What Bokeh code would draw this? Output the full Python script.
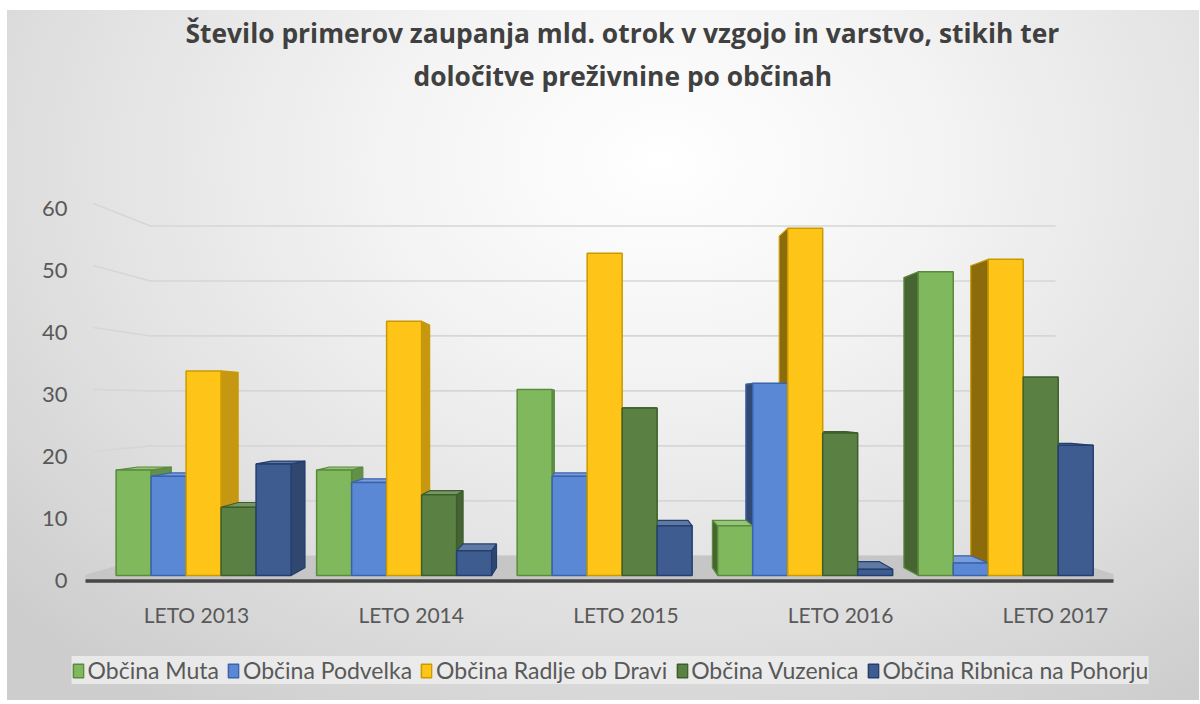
import numpy as np
from bokeh.plotting import figure
from bokeh.layouts import column
from bokeh.models import Range1d, FixedTicker, Title, Legend, LegendItem, ColumnDataSource
from bokeh.embed import file_html
from bokeh.resources import INLINE

# ---------------- data ----------------
categories = ["LETO 2013", "LETO 2014", "LETO 2015", "LETO 2016", "LETO 2017"]
series_names = ["Občina Muta", "Občina Podvelka", "Občina Radlje ob Dravi",
                "Občina Vuzenica", "Občina Ribnica na Pohorju"]
muta = [17, 17, 30, 8, 49]
podvelka = [16, 15, 16, 31, 2]
radlje = [33, 41, 52, 56, 51]
vuzenica = [11, 13, 27, 23, 32]
ribnica = [18, 4, 8, 1, 21]
y_ticks = [0, 10, 20, 30, 40, 50, 60]
title_line1 = "Število primerov zaupanja mld. otrok v vzgojo in varstvo, stikih ter"
title_line2 = "določitve preživnine po občinah"

series_values = [muta, podvelka, radlje, vuzenica, ribnica]

# ---------------- style ----------------
front_colors = ["#80b85e", "#5a88d4", "#ffc418", "#5a8043", "#3e5c8f"]
line_colors = ["#5a8a3c", "#3a63ad", "#c99a00", "#3d5e2a", "#223f70"]
FONT = "Lato"
TITLE_FONT = "Open Sans"
TEXT = "#595959"

# pseudo-3D perspective parameters (style only)
VP_X = 1.88        # vanishing point (x, in category units)
EYE_Y = 28.0       # eye level (value units)
BAR_DEPTH = 0.045
WALL_DEPTH = 0.113
FLOOR_FRONT = -0.032
CLUSTER_SCALE = 0.934
CLUSTER_SHIFT = 0.033
BAR_W = 0.163
X_LO, X_HI = -0.517, 4.271
X_WALL = -0.481
Y_LO, Y_HI = -1.3, 61.3
LABEL_SHIFT = -0.8


def shade(hexc, f):
    h = hexc.lstrip('#')
    r, g, b = [int(h[i:i + 2], 16) for i in (0, 2, 4)]
    if f < 1:
        r, g, b = [int(c * f) for c in (r, g, b)]
    else:
        r, g, b = [int(c + (255 - c) * (f - 1)) for c in (r, g, b)]
    return "#%02x%02x%02x" % (r, g, b)


def proj(x, y, t):
    return x + t * (VP_X - x), y + t * (EYE_Y - y)


W = 1192
H_MAIN, H_LEG = 630, 60
p = figure(width=W, height=H_MAIN, output_backend="svg", toolbar_location=None,
           x_range=Range1d(X_LO, X_HI), y_range=Range1d(Y_LO, Y_HI),
           min_border_left=78, min_border_right=86, min_border_top=185,
           min_border_bottom=57)
p.background_fill_color = None
p.border_fill_color = None
p.outline_line_color = None
p.xgrid.visible = False
p.ygrid.visible = False

# titles (first added is closest to the frame)
spacer = Title(text=" ", text_font=FONT, text_font_size="70.5px")
t2 = Title(text=title_line2, align="left", text_font=TITLE_FONT, text_font_style="bold",
           text_font_size="26.4px", text_color="#404040", offset=328)
t1 = Title(text=title_line1, align="left", text_font=TITLE_FONT, text_font_style="bold",
           text_font_size="26.4px", text_color="#404040", offset=100, standoff=0)
p.add_layout(spacer, "above")
p.add_layout(t2, "above")
p.add_layout(t1, "above")

# axes
p.xaxis.ticker = FixedTicker(ticks=list(range(len(categories))))
p.xaxis.major_label_overrides = {i: c for i, c in enumerate(categories)}
p.yaxis.ticker = FixedTicker(ticks=[round(v + LABEL_SHIFT, 3) for v in y_ticks])
p.yaxis.major_label_overrides = {round(v + LABEL_SHIFT, 3): str(v) for v in y_ticks}
for ax in (p.xaxis[0], p.yaxis[0]):
    ax.axis_line_color = None
    ax.major_tick_line_color = None
    ax.minor_tick_line_color = None
    ax.major_label_text_font = FONT
    ax.major_label_text_color = TEXT
p.xaxis.major_label_text_font_size = "21px"
p.yaxis.major_label_text_font_size = "22px"
p.xaxis.major_label_standoff = 12
p.yaxis.major_label_standoff = 12

# back wall gridlines
gx, gy = [], []
for v in y_ticks:
    a = proj(X_WALL, v, 0.0)
    b = proj(X_WALL, v, WALL_DEPTH)
    c = proj(X_HI, v, WALL_DEPTH)
    gx.append([a[0], b[0], c[0]])
    gy.append([a[1], b[1], c[1]])
p.multi_line(gx, gy, line_color="#d6d6d6", line_width=1.6)

# floor
fy = proj(0, 0, FLOOR_FRONT)[1]
fl = (X_LO - 0.1, fy)
fr = (X_HI + 0.1, fy)
br = proj(X_HI, 0, WALL_DEPTH)
bl = proj(X_WALL, 0, WALL_DEPTH)
p.patch([fl[0], fr[0], br[0], bl[0]], [fl[1], fr[1], br[1], bl[1]],
        fill_color="#c6c6c6", line_color=None)
p.segment(x0=[fl[0]], y0=[fl[1]], x1=[fr[0]], y1=[fr[1]], line_color="#474747", line_width=3.5)

# bar side and top faces
side_xs, side_ys, side_fc, side_lc = [], [], [], []
top_xs, top_ys, top_fc, top_lc = [], [], [], []
for j, vals in enumerate(series_values):
    for i, v in enumerate(vals):
        cx = CLUSTER_SHIFT + CLUSTER_SCALE * i
        xl = cx + (j - 2.5) * BAR_W
        xr = xl + BAR_W
        if xr < VP_X:
            e = xr
            col = shade(front_colors[j], 0.78)
        elif xl > VP_X:
            e = xl
            col = shade(front_colors[j], 0.55)
        else:
            e = None
        if e is not None:
            b1 = proj(e, v, BAR_DEPTH)
            b0 = proj(e, 0, BAR_DEPTH)
            side_xs.append([e, e, b1[0], b0[0]])
            side_ys.append([0, v, b1[1], b0[1]])
            side_fc.append(col)
            side_lc.append(line_colors[j])
        if v < EYE_Y:
            r1 = proj(xr, v, BAR_DEPTH)
            l1 = proj(xl, v, BAR_DEPTH)
            top_xs.append([xl, xr, r1[0], l1[0]])
            top_ys.append([v, v, r1[1], l1[1]])
            top_fc.append(shade(front_colors[j], 1.18))
            top_lc.append(line_colors[j])

p.patches(xs="xs", ys="ys", fill_color="fc", line_color="lc", line_width=1.2,
          source=ColumnDataSource(dict(xs=side_xs, ys=side_ys, fc=side_fc, lc=side_lc)))
p.patches(xs="xs", ys="ys", fill_color="fc", line_color="lc", line_width=1.2,
          source=ColumnDataSource(dict(xs=top_xs, ys=top_ys, fc=top_fc, lc=top_lc)))

# bar front faces
bar_x = []
for j, vals in enumerate(series_values):
    xs = [CLUSTER_SHIFT + CLUSTER_SCALE * i + (j - 2) * BAR_W for i in range(len(vals))]
    bar_x.append(xs)
    p.vbar(x=xs, top=vals, bottom=0, width=BAR_W, fill_color=front_colors[j],
           line_color=line_colors[j], line_width=1.5)

# legend strip (its renderers are hidden; only the legend entries show)
pl = figure(width=W, height=H_LEG, output_backend="svg", toolbar_location=None,
            x_axis_type=None, y_axis_type=None, x_range=Range1d(X_LO, X_HI),
            y_range=Range1d(Y_LO, Y_HI),
            min_border_left=14, min_border_right=0, min_border_top=0, min_border_bottom=0)
try:
    pl.frame_align = False
except Exception:
    pass
pl.background_fill_color = None
pl.border_fill_color = None
pl.outline_line_color = None
pl.xgrid.visible = False
pl.ygrid.visible = False
items = []
for j, name in enumerate(series_names):
    r = pl.vbar(x=bar_x[j], top=series_values[j], bottom=0, width=BAR_W,
                fill_color=front_colors[j], line_color=line_colors[j], line_width=1.5,
                visible=False)
    items.append(LegendItem(label=name, renderers=[r]))
legend = Legend(items=items, orientation="horizontal", location="center",
                background_fill_color="#ededed", background_fill_alpha=0.85,
                border_line_color=None, label_text_font=FONT,
                label_text_font_size="23px", label_text_color=TEXT,
                glyph_width=13, glyph_height=17, label_standoff=3, spacing=8,
                padding=8, margin=0, inactive_fill_alpha=0.0)
pl.add_layout(legend)

layout = column(p, pl, spacing=0,
                styles={"background": "radial-gradient(ellipse 75% 95% at 55% 22%, #ffffff 0%, #f4f4f4 30%, #e2e2e2 65%, #cdcdcd 100%)",
                        "margin-top": "10px", "margin-left": "7px"})

open("out.html", "w").write(file_html(layout, INLINE))
